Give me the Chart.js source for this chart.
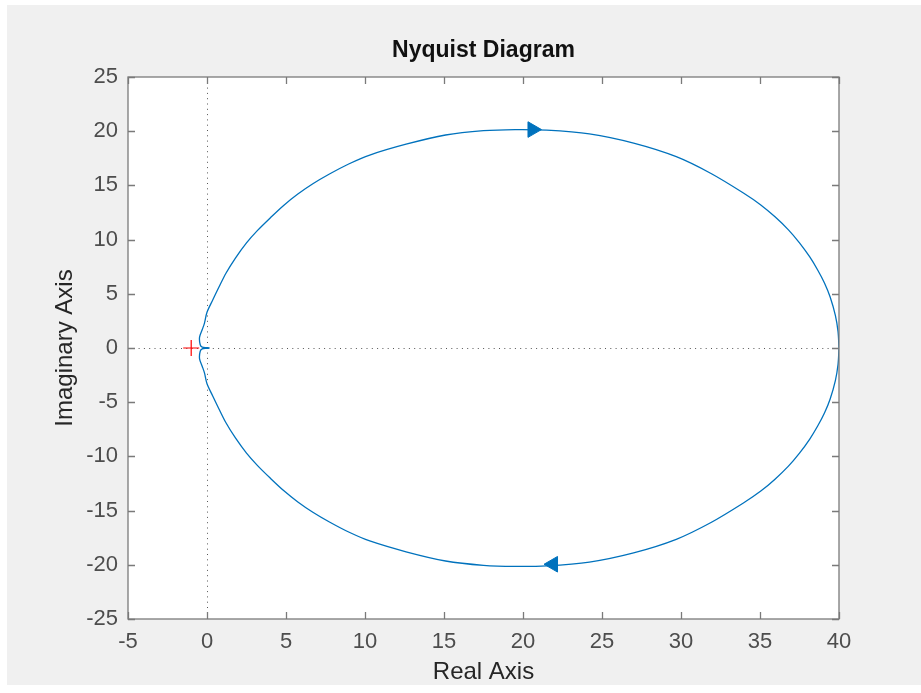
<!DOCTYPE html>
<html>
<head>
<meta charset="utf-8">
<title>Nyquist Diagram</title>
<script src="https://cdn.jsdelivr.net/npm/chart.js@4"></script>
<style>
    html, body { margin: 0; padding: 0; background: #ffffff; }
    #wrap { width: 921px; height: 693px; position: relative; }
</style>
</head>
<body>
<div id="wrap"><canvas id="nyquistChart"></canvas></div>
<script>
// ==================== NYQUIST DATA ====================

// Negative-frequency branch: from the origin up and round to the DC gain
const upperRe = [0.15, 0.0, -0.3, -0.43, -0.47, -0.3, -0.16, 0.0, 0.37, 0.75, 1.2, 1.8, 2.5, 3.2, 4.0, 4.85, 5.75, 6.7, 7.75, 9.0, 10.3, 12.6, 15.1, 17.5, 19.5, 21.5, 24.2, 27.0, 29.7, 31.9, 33.95, 35.05, 35.95, 36.8, 37.5, 38.15, 38.65, 39.08, 39.44, 39.77, 39.94, 40.0];
const upperIm = [0.0, 0.03, 0.08, 0.3, 1.0, 1.7, 2.3, 3.3, 4.45, 5.6, 6.9, 8.3, 9.7, 10.85, 12.0, 13.15, 14.2, 15.15, 16.05, 17.0, 17.8, 18.8, 19.65, 20.05, 20.15, 20.1, 19.75, 18.9, 17.65, 16.1, 14.3, 13.2, 12.1, 10.9, 9.7, 8.4, 7.2, 6.0, 4.7, 3.0, 1.5, 0.0];

// Positive-frequency branch: from the DC gain down and back to the origin
const lowerRe = [40.0, 39.94, 39.77, 39.44, 39.08, 38.65, 38.15, 37.5, 36.8, 35.95, 35.05, 33.95, 31.9, 29.7, 27.0, 24.2, 21.5, 19.5, 17.5, 15.1, 12.6, 10.3, 9.0, 7.75, 6.7, 5.75, 4.85, 4.0, 3.2, 2.5, 1.8, 1.2, 0.75, 0.37, 0.0, -0.16, -0.3, -0.47, -0.43, -0.3, 0.0, 0.15];
const lowerIm = [0.0, -1.5, -3.0, -4.7, -6.0, -7.2, -8.4, -9.7, -10.9, -12.1, -13.2, -14.3, -16.1, -17.65, -18.9, -19.75, -20.1, -20.15, -20.05, -19.65, -18.8, -17.8, -17.0, -16.05, -15.15, -14.2, -13.15, -12.0, -10.85, -9.7, -8.3, -6.9, -5.6, -4.45, -3.3, -2.3, -1.7, -1.0, -0.3, -0.08, -0.03, 0.0];

// Direction arrows (top one points right, bottom one points left)
const arrowRe = [20.6, 21.9];
const arrowIm = [20.15, -19.95];
const arrowAngle = [90, -90];

// Critical point -1 + 0j
const criticalRe = [-1];
const criticalIm = [0];

// Axis limits and tick spacing
const xLimits = [-5, 40];
const yLimits = [-25, 25];
const tickStep = 5;

const LINE_BLUE = '#0072BD';
const AXIS_GRAY = '#7a7a7a';
const LABEL_GRAY = '#4d4d4d';
const FONT = '"Liberation Sans", Arial, Helvetica, sans-serif';

function toPoints(re, im) {
    return re.map((r, i) => ({ x: r, y: im[i] }));
}

// Figure background, axes box, inward ticks, zero lines and title
const matlabAxes = {
    id: 'matlabAxes',
    beforeDraw(chart) {
        const { ctx, chartArea: a } = chart;
        ctx.save();
        ctx.fillStyle = '#ffffff';
        ctx.fillRect(0, 0, chart.width, chart.height);
        ctx.fillStyle = '#f0f0f0';
        ctx.fillRect(7, 5, chart.width - 7, 680);
        ctx.fillStyle = '#ffffff';
        ctx.fillRect(a.left, a.top, a.right - a.left, a.bottom - a.top);
        ctx.restore();
    },
    beforeDatasetsDraw(chart) {
        const { ctx, chartArea: a, scales } = chart;
        const x0 = Math.round(scales.x.getPixelForValue(0)) + 0.5;
        const y0 = Math.round(scales.y.getPixelForValue(0)) + 0.5;
        ctx.save();
        ctx.strokeStyle = '#555555';
        ctx.lineWidth = 1;
        ctx.setLineDash([1, 4.3]);
        ctx.beginPath();
        ctx.moveTo(a.left, y0);
        ctx.lineTo(a.right, y0);
        ctx.moveTo(x0, a.top);
        ctx.lineTo(x0, a.bottom);
        ctx.stroke();
        ctx.restore();
    },
    afterDraw(chart) {
        const { ctx, chartArea: a, scales } = chart;
        const tickLen = 7;
        ctx.save();
        ctx.strokeStyle = AXIS_GRAY;
        ctx.lineWidth = 1.3;
        ctx.beginPath();
        scales.x.ticks.forEach(t => {
            const px = Math.round(scales.x.getPixelForValue(t.value)) + 0.5;
            ctx.moveTo(px, a.bottom);
            ctx.lineTo(px, a.bottom - tickLen);
            ctx.moveTo(px, a.top);
            ctx.lineTo(px, a.top + tickLen);
        });
        scales.y.ticks.forEach(t => {
            const py = Math.round(scales.y.getPixelForValue(t.value)) + 0.5;
            ctx.moveTo(a.left, py);
            ctx.lineTo(a.left + tickLen, py);
            ctx.moveTo(a.right, py);
            ctx.lineTo(a.right - tickLen, py);
        });
        ctx.stroke();
        ctx.strokeRect(a.left, a.top, a.right - a.left, a.bottom - a.top);

        // Title centred over the axes box
        ctx.fillStyle = '#111111';
        ctx.font = 'bold 23px ' + FONT;
        ctx.textAlign = 'center';
        ctx.textBaseline = 'middle';
        ctx.fillText('Nyquist Diagram', (a.left + a.right) / 2, 51);
        ctx.restore();
    }
};

const ctx = document.getElementById('nyquistChart').getContext('2d');

const nyquistChart = new Chart(ctx, {
    type: 'scatter',
    data: {
        datasets: [
            {
                label: 'upper',
                data: toPoints(upperRe, upperIm),
                showLine: true,
                borderColor: LINE_BLUE,
                borderWidth: 1.3,
                pointRadius: 0,
                tension: 0.3,
                fill: false
            },
            {
                label: 'lower',
                data: toPoints(lowerRe, lowerIm),
                showLine: true,
                borderColor: LINE_BLUE,
                borderWidth: 1.3,
                pointRadius: 0,
                tension: 0.3,
                fill: false
            },
            {
                label: 'arrows',
                data: toPoints(arrowRe, arrowIm),
                pointStyle: 'triangle',
                rotation: arrowAngle,
                pointRadius: 9,
                backgroundColor: LINE_BLUE,
                borderColor: LINE_BLUE,
                borderWidth: 1
            },
            {
                label: 'critical',
                data: toPoints(criticalRe, criticalIm),
                pointStyle: 'cross',
                pointRadius: 8,
                borderColor: '#ff0000',
                borderWidth: 1.2
            }
        ]
    },
    options: {
        responsive: true,
        maintainAspectRatio: false,
        animation: false,
        layout: {
            padding: { top: 77, right: 82, left: 0, bottom: 0 }
        },
        plugins: {
            legend: { display: false },
            title: { display: false },
            tooltip: { enabled: false }
        },
        scales: {
            x: {
                type: 'linear',
                min: xLimits[0],
                max: xLimits[1],
                grid: { display: false, drawTicks: false },
                border: { display: false },
                ticks: {
                    stepSize: tickStep,
                    color: LABEL_GRAY,
                    padding: 10,
                    maxRotation: 0,
                    font: { family: FONT, size: 22 }
                },
                title: {
                    display: true,
                    text: 'Real Axis',
                    color: '#262626',
                    padding: { top: 0, bottom: 6 },
                    font: { family: FONT, size: 24 }
                },
                afterFit(scale) { scale.height = 74; }
            },
            y: {
                type: 'linear',
                min: yLimits[0],
                max: yLimits[1],
                grid: { display: false, drawTicks: false },
                border: { display: false },
                ticks: {
                    stepSize: tickStep,
                    color: LABEL_GRAY,
                    padding: 10,
                    font: { family: FONT, size: 22 }
                },
                title: {
                    display: true,
                    text: 'Imaginary Axis',
                    color: '#262626',
                    padding: { top: 51, bottom: 0 },
                    font: { family: FONT, size: 24 }
                },
                afterFit(scale) { scale.width = 128; }
            }
        }
    },
    plugins: [matlabAxes]
});
</script>
</body>
</html>
